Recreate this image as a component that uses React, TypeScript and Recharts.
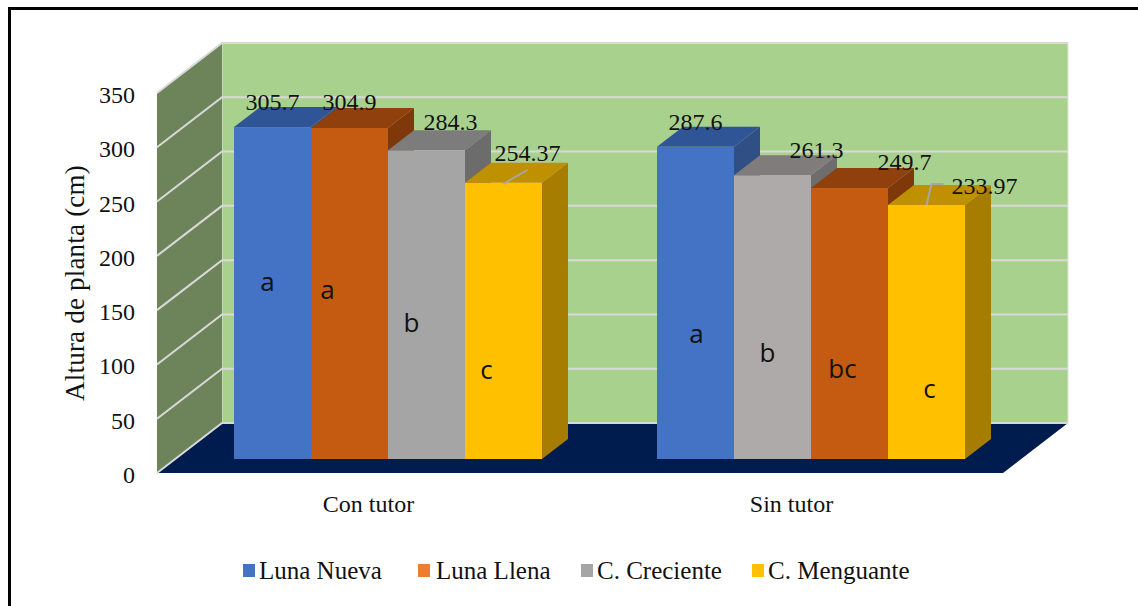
import { Bar, BarChart, CartesianGrid, LabelList, Legend, ReferenceArea, XAxis, YAxis } from "recharts";

const categories = ["Con tutor", "Sin tutor"];
const yTicks = [0, 50, 100, 150, 200, 250, 300, 350];

// bars sit left to right in a different order per group, so the slots carry the values
const slot1Values = [305.7, 287.6];
const slot2Values = [304.9, 261.3];
const slot3Values = [284.3, 249.7];
const slot4Values = [254.37, 233.97];

const slot1Letters = ["a", "a"];
const slot2Letters = ["a", "b"];
const slot3Letters = ["b", "bc"];
const slot4Letters = ["c", "c"];

const legendNames = ["Luna Nueva", "Luna Llena", "C. Creciente", "C. Menguante"];
const legendColors = ["#4472C4", "#ED7D31", "#A5A5A5", "#FFC000"];
const legendLeft = [243, 418, 581, 752];
const legendTextGap = [16, 18, 16, 16];

const table = categories.map((name, i) => ({
  name,
  slot1: slot1Values[i],
  slot2: slot2Values[i],
  slot3: slot3Values[i],
  slot4: slot4Values[i],
  letter1: slot1Letters[i],
  letter2: slot2Letters[i],
  letter3: slot3Letters[i],
  letter4: slot4Letters[i],
}));

const SERIF = "'Liberation Serif', serif";
const BLUE = { front: "#4472C4", top: "#2F5597", side: "#2F4F85" };
const ORANGE = { front: "#C55A11", top: "#8F400D", side: "#7F380A" };
const GREY = { front: "#A5A5A5", top: "#7C7C7C", side: "#6C6C6C" };
const GREY2 = { front: "#AEAAAA", top: "#807C7C", side: "#6F6C6C" };
const YELLOW = { front: "#FFC000", top: "#BF9000", side: "#A67D00" };
const slotColors = [
  [BLUE, BLUE],
  [ORANGE, GREY2],
  [GREY, ORANGE],
  [YELLOW, YELLOW],
];

// label nudges from the front-top centre of each bar: [dx, baseline dy]
const valueNudge = [
  [[0, -17], [0, -17]],
  [[0, -18], [44, -17]],
  [[24, -20], [55, -18]],
  [[24, -22], [58, -11]],
];
// letter nudges from the bar's bottom centre: [dx, baseline]
const letterNudge = [
  [[-5, -168], [1, -116]],
  [[-22, -160], [-5, -97]],
  [[-15, -127], [-7, -81]],
  [[-17, -80], [3, -61]],
];

const DEPTH_X = 26;
const DEPTH_Y = 20;
// plot plane sits between the front edge of the floor and the back wall
const FRONT = { x: -19, y: 14 };
const BACK = { x: 46, y: -36 };

function Bar3D(props: any, slot: number) {
  const { x, y, width, height, index } = props;
  const c = slotColors[slot][index];
  const r = x + width;
  const b = y + height;
  return (
    <g>
      <polygon points={`${r},${y} ${r + DEPTH_X},${y - DEPTH_Y} ${r + DEPTH_X},${b - DEPTH_Y} ${r},${b}`} fill={c.side} />
      <polygon points={`${x},${y} ${x + DEPTH_X},${y - DEPTH_Y} ${r + DEPTH_X},${y - DEPTH_Y} ${r},${y}`} fill={c.top} />
      <rect x={x} y={y} width={width} height={height} fill={c.front} />
    </g>
  );
}

function Walls(props: any) {
  const { x, y, width, height } = props;
  const b = y + height;
  const r = x + width;
  const fx = x + FRONT.x;
  const bx = x + BACK.x;
  const fb = b + FRONT.y;
  const bb = b + BACK.y;
  const bt = y + BACK.y;
  const ft = y + FRONT.y;
  return (
    <g>
      <rect x={bx} y={bt} width={width} height={height} fill="#A9D18E" stroke="#DDE5D6" strokeWidth={1} />
      <polygon points={`${fx},${ft} ${bx},${bt} ${bx},${bb} ${fx},${fb}`} fill="#6D845B" />
      <polygon points={`${fx},${fb} ${bx},${bb} ${r + BACK.x},${bb} ${r + FRONT.x},${fb}`} fill="#001B4E" />
    </g>
  );
}

function GridLine(props: any) {
  const { x1, x2, y1 } = props;
  const pts = `${x1 + FRONT.x},${y1 + FRONT.y} ${x1 + BACK.x},${y1 + BACK.y} ${x2 + BACK.x},${y1 + BACK.y}`;
  return <polyline points={pts} fill="none" stroke="#D9D9D9" strokeWidth={2} />;
}

function YTick(props: any) {
  const { y, payload } = props;
  return (
    <text x={135} y={y + FRONT.y + 10} textAnchor="end" fontFamily={SERIF} fontSize={24} fill="#111">
      {payload.value}
    </text>
  );
}

function XTick(props: any) {
  const { x, payload } = props;
  return (
    <text x={x + FRONT.x} y={512} textAnchor="middle" fontFamily={SERIF} fontSize={24} fill="#111">
      {payload.value}
    </text>
  );
}

function ValueLabel(props: any, slot: number) {
  const { x, y, width, value, index } = props;
  const cx = x + width / 2;
  const [dx, dy] = valueNudge[slot][index];
  return (
    <g>
      {slot === 3 && index === 0 && (
        <line x1={cx} y1={y + 1} x2={cx + 24} y2={y - 13} stroke="#A6A6A6" strokeWidth={2} />
      )}
      {slot === 3 && index === 1 && (
        <polyline points={`${cx},${y} ${cx + 5},${y - 21} ${cx + 17},${y - 21}`} fill="none" stroke="#A6A6A6" strokeWidth={2} />
      )}
      <text x={cx + dx} y={y + dy} textAnchor="middle" fontFamily={SERIF} fontSize={24} fill="#111">
        {value}
      </text>
    </g>
  );
}

function LetterLabel(props: any, slot: number) {
  const { x, y, width, height, value, index } = props;
  const [dx, dy] = letterNudge[slot][index];
  return (
    <text x={x + width / 2 + dx} y={y + height + dy} textAnchor="middle" fontFamily="'Open Sans', sans-serif" fontSize={26} fill="#111">
      {value}
    </text>
  );
}

function LegendRow() {
  return (
    <div style={{ position: "relative", height: 0, width: 0 }}>
      {legendNames.map((name, i) => (
        <div key={name} style={{ position: "absolute", left: legendLeft[i], top: 552, whiteSpace: "nowrap", fontFamily: SERIF, fontSize: 25, color: "#111", lineHeight: "38px" }}>
          <span style={{ position: "absolute", left: 0, top: 12, width: 12, height: 13, background: legendColors[i] }} />
          <span style={{ marginLeft: legendTextGap[i] }}>{name}</span>
        </div>
      ))}
    </div>
  );
}

const slotKeys = ["slot1", "slot2", "slot3", "slot4"];
const letterKeys = ["letter1", "letter2", "letter3", "letter4"];

export default function App() {
  return (
    <div style={{ position: "absolute", left: 0, top: 0, width: 1138, height: 606, overflow: "hidden", background: "#fff" }}>
      {/* frame is cut off on the right and bottom in the source picture */}
      <div style={{ position: "absolute", left: 8, top: 7, width: 1140, height: 620, border: "3px solid #000", boxSizing: "border-box" }} />
      <BarChart
        width={1138}
        height={606}
        data={table}
        barSize={77}
        barGap={0}
        margin={{ top: 79, right: 116, bottom: 107, left: 116 }}
        style={{ position: "absolute", left: 0, top: 0 }}
      >
        <ReferenceArea y1={0} y2={350} shape={Walls} ifOverflow="visible" zIndex={-200} />
        <CartesianGrid vertical={false} horizontal={GridLine} syncWithTicks />
        <XAxis dataKey="name" height={40} axisLine={false} tickLine={false} tick={XTick} />
        <YAxis width={60} domain={[0, 350]} ticks={yTicks} axisLine={false} tickLine={false} tick={YTick} interval={0} />
        {slotKeys.map((key, slot) => (
          <Bar key={key} dataKey={key} isAnimationActive={false} shape={(p: any) => Bar3D(p, slot)}>
            <LabelList dataKey={letterKeys[slot]} content={(p: any) => LetterLabel(p, slot)} />
            <LabelList dataKey={key} content={(p: any) => ValueLabel(p, slot)} />
          </Bar>
        ))}
        <Legend content={LegendRow} wrapperStyle={{ left: 0, top: 0, width: 0, height: 0 }} />
        <text x={0} y={0} transform="translate(84,283) rotate(-90)" textAnchor="middle" fontFamily={SERIF} fontSize={27} letterSpacing={0.2} fill="#111">
          Altura de planta (cm)
        </text>
      </BarChart>
    </div>
  );
}
